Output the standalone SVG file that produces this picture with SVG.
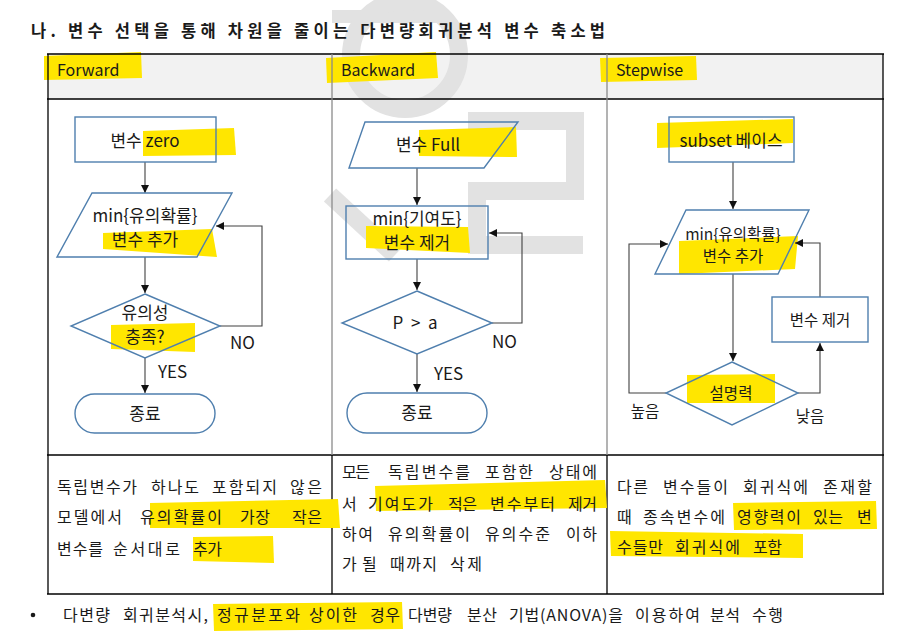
<svg xmlns="http://www.w3.org/2000/svg" width="910" height="638" viewBox="0 0 910 638">
<defs>
<style>
.t{font-family:"Noto Sans CJK KR","Noto Sans",sans-serif;fill:#1a1a1a}
.fc{font-size:17px;text-anchor:middle}
.fs{font-size:15.5px;text-anchor:middle}
.lbl{font-size:17px}
.hdr{font-size:16px}
.d{font-size:16px}
.hl{fill:#ffe600}
.shape{fill:none;stroke:#4f7fae;stroke-width:1.4}
.conn{fill:none;stroke:#404040;stroke-width:1.1}
.wm{fill:none;stroke:#e2e2e2;stroke-width:18}
.outer{stroke:#000;stroke-width:1.3}
.inner{stroke:#8a8a8a;stroke-width:1.3}
</style>
<marker id="ah" viewBox="0 0 10 10" refX="10" refY="5" markerUnits="userSpaceOnUse" markerWidth="9" markerHeight="8" orient="auto">
<path d="M0,0 L10,5 L0,10 z" fill="#111"/>
</marker>
</defs>
<rect width="910" height="638" fill="#fff"/>

<!-- header row background -->
<rect x="48" y="54" width="835" height="45" fill="#f2f2f2"/>

<!-- watermark -->
<g id="watermark">
<rect x="378" y="0" width="16" height="12" fill="#e2e2e2"/>
<rect x="332" y="10" width="116" height="13" fill="#e2e2e2"/>
<circle class="wm" cx="405" cy="55" r="54" stroke-width="20"/>
<path class="wm" d="M468,121 H575 V191 H477 V245 H583"/>
<path class="wm" d="M330,195 L395,255"/>
</g>

<!-- title -->
<text class="t" x="31" y="37" font-size="16.5" font-weight="bold" textLength="574" lengthAdjust="spacing">나. 변수 선택을 통해 차원을 줄이는 다변량회귀분석 변수 축소법</text>

<!-- header highlights and texts -->
<polygon class="hl" points="44,56 141,52 142,78 44,80"/>
<polygon class="hl" points="326,58 436,52 438,78 327,83"/>
<polygon class="hl" points="600,58 696,56 697,80 601,82"/>
<text class="t hdr" x="57" y="76">Forward</text>
<text class="t hdr" x="341" y="76">Backward</text>
<text class="t hdr" x="616" y="76">Stepwise</text>

<!-- table lines -->
<g id="table">
<line class="outer" x1="47" y1="54" x2="884" y2="54"/>
<line class="outer" x1="47" y1="99" x2="884" y2="99"/>
<line class="outer" x1="47" y1="455" x2="884" y2="455"/>
<line class="outer" x1="47" y1="594" x2="884" y2="594"/>
<line class="outer" x1="48" y1="54" x2="48" y2="594"/>
<line class="outer" x1="883" y1="54" x2="883" y2="594"/>
<line class="inner" x1="332" y1="54" x2="332" y2="455"/>
<line class="inner" x1="607" y1="54" x2="607" y2="455"/>
<line class="outer" x1="332" y1="455" x2="332" y2="594"/>
<line class="outer" x1="607" y1="455" x2="607" y2="594"/>
</g>

<!-- highlights under flowchart text -->
<polygon class="hl" points="143,131 234,128 236,155 143,156"/>
<polygon class="hl" points="103,233 212,229 217,257 103,249"/>
<polygon class="hl" points="111,325 195,323 195,352 111,349"/>
<polygon class="hl" points="419,130 516,127 517,157 419,156"/>
<polygon class="hl" points="366,226 468,227 470,253 366,248"/>
<polygon class="hl" points="657,123 793,119 793,143 657,148"/>
<polygon class="hl" points="679,241 798,236 795,269 679,274"/>
<polygon class="hl" points="687,375 775,374 775,403 687,403"/>

<!-- connectors -->
<g id="connectors">
<path class="conn" d="M145,162 V193" marker-end="url(#ah)"/>
<path class="conn" d="M145,257 V293" marker-end="url(#ah)"/>
<path class="conn" d="M220,326 H262 V226 H216" marker-end="url(#ah)"/>
<path class="conn" d="M145,358 V393" marker-end="url(#ah)"/>

<path class="conn" d="M417,168 V205" marker-end="url(#ah)"/>
<path class="conn" d="M417,259 V290" marker-end="url(#ah)"/>
<path class="conn" d="M492,323 H522 V233 H489" marker-end="url(#ah)"/>
<path class="conn" d="M417,354 V392" marker-end="url(#ah)"/>

<path class="conn" d="M733,162 V209" marker-end="url(#ah)"/>
<path class="conn" d="M733,274 V361" marker-end="url(#ah)"/>
<path class="conn" d="M666,393 H629 V244 H668" marker-end="url(#ah)"/>
<path class="conn" d="M798,393 H820 V343" marker-end="url(#ah)"/>
<path class="conn" d="M820,297 V243 H795" marker-end="url(#ah)"/>
</g>

<!-- Forward nodes -->
<g id="f-start">
<rect class="shape" x="75" y="117" width="141" height="45"/>
<text class="t fc" x="145" y="147">변수 zero</text>
</g>
<g id="f-add">
<polygon class="shape" points="92,193 232,193 197,257 57,257"/>
<text class="t fc" x="145" y="222">min{유의확률}</text>
<text class="t fc" x="145" y="246">변수 추가</text>
</g>
<g id="f-check">
<polygon class="shape" points="145,294 220,326 145,358 71,326"/>
<text class="t fc" x="145" y="319">유의성</text>
<text class="t fc" x="145" y="343">충족?</text>
</g>
<g id="f-end">
<rect class="shape" x="75" y="394" width="140" height="39" rx="19.5"/>
<text class="t fc" x="145" y="420">종료</text>
</g>
<text class="t lbl" x="230" y="349">NO</text>
<text class="t lbl" x="158" y="378">YES</text>

<!-- Backward nodes -->
<g id="b-start">
<polygon class="shape" points="365,122 518,122 484,168 349,168"/>
<text class="t fc" x="428" y="151">변수 Full</text>
</g>
<g id="b-remove">
<rect class="shape" x="346" y="206" width="142" height="53"/>
<text class="t fc" x="417" y="225" font-size="16.5">min{기여도}</text>
<text class="t fc" x="417" y="249" font-size="16.5">변수 제거</text>
</g>
<g id="b-check">
<polygon class="shape" points="417,291 492,323 417,354 342,323"/>
<text class="t fc" x="415" y="329" xml:space="preserve">P  &gt;  a</text>
</g>
<g id="b-end">
<rect class="shape" x="347" y="393" width="140" height="40" rx="20"/>
<text class="t fc" x="417" y="419">종료</text>
</g>
<text class="t lbl" x="492" y="348">NO</text>
<text class="t lbl" x="434" y="380">YES</text>

<!-- Stepwise nodes -->
<g id="s-start">
<rect class="shape" x="669" y="117" width="125" height="45"/>
<text class="t fc" x="731" y="147" font-size="16">subset 베이스</text>
</g>
<g id="s-add">
<polygon class="shape" points="686,210 809,210 778,274 655,274"/>
<text class="t fs" x="733" y="240">min{유의확률}</text>
<text class="t fs" x="733" y="262">변수 추가</text>
</g>
<g id="s-check">
<polygon class="shape" points="732,362 798,393 732,425 666,393"/>
<text class="t fs" x="731" y="399">설명력</text>
</g>
<g id="s-remove">
<rect class="shape" x="772" y="297" width="96" height="45"/>
<text class="t fs" x="820" y="326" font-size="16">변수 제거</text>
</g>
<text class="t fs" x="645" y="417">높음</text>
<text class="t fs" x="810" y="422">낮음</text>

<!-- description highlights -->
<polygon class="hl" points="150,503 338,499 340,528 150,528"/>
<polygon class="hl" points="193,537 273,536 274,563 193,561"/>
<polygon class="hl" points="375,486 605,480 607,508 376,511"/>
<polygon class="hl" points="733,503 876,501 877,529 734,530"/>
<polygon class="hl" points="610,531 803,534 803,558 611,556"/>
<polygon class="hl" points="213,604 402,602 403,629 214,631"/>

<!-- descriptions -->
<text class="t d" lengthAdjust="spacing"><tspan x="57" y="493" textLength="80">독립변수가</tspan><tspan x="151" y="493" textLength="48">하나도</tspan><tspan x="212" y="493" textLength="65">포함되지</tspan><tspan x="290" y="493" textLength="32">않은</tspan></text>
<text class="t d" lengthAdjust="spacing"><tspan x="57" y="523" textLength="65">모델에서</tspan><tspan x="140" y="523" textLength="82">유의확률이</tspan><tspan x="240" y="523" textLength="30">가장</tspan><tspan x="292" y="523" textLength="30">작은</tspan></text>
<text class="t d" lengthAdjust="spacing"><tspan x="57" y="555" textLength="46">변수를</tspan><tspan x="113" y="555" textLength="67">순서대로</tspan><tspan x="193" y="555" textLength="29">추가</tspan></text>

<text class="t d" lengthAdjust="spacing"><tspan x="342" y="478" textLength="28">모든</tspan><tspan x="388" y="478" textLength="82">독립변수를</tspan><tspan x="485" y="478" textLength="48">포함한</tspan><tspan x="549" y="478" textLength="48">상태에</tspan></text>
<text class="t d" lengthAdjust="spacing"><tspan x="342" y="510">서</tspan><tspan x="368" y="510" textLength="65">기여도가</tspan><tspan x="448" y="510" textLength="29">적은</tspan><tspan x="490" y="510" textLength="65">변수부터</tspan><tspan x="568" y="510" textLength="29">제거</tspan></text>
<text class="t d" lengthAdjust="spacing"><tspan x="342" y="540" textLength="31">하여</tspan><tspan x="388" y="540" textLength="82">유의확률이</tspan><tspan x="485" y="540" textLength="65">유의수준</tspan><tspan x="566" y="540" textLength="31">이하</tspan></text>
<text class="t d" lengthAdjust="spacing"><tspan x="342" y="570">가</tspan><tspan x="362" y="570">될</tspan><tspan x="390" y="570" textLength="47">때까지</tspan><tspan x="450" y="570" textLength="32">삭제</tspan></text>

<text class="t d" lengthAdjust="spacing"><tspan x="617" y="493" textLength="31">다른</tspan><tspan x="663" y="493" textLength="65">변수들이</tspan><tspan x="743" y="493" textLength="65">회귀식에</tspan><tspan x="823" y="493" textLength="49">존재할</tspan></text>
<text class="t d" lengthAdjust="spacing"><tspan x="617" y="523">때</tspan><tspan x="643" y="523" textLength="82">종속변수에</tspan><tspan x="737" y="523" textLength="64">영향력이</tspan><tspan x="813" y="523" textLength="30">있는</tspan><tspan x="857" y="523">변</tspan></text>
<text class="t d" lengthAdjust="spacing"><tspan x="617" y="553" textLength="46">수들만</tspan><tspan x="675" y="553" textLength="65">회귀식에</tspan><tspan x="753" y="553" textLength="29">포함</tspan></text>

<!-- bullet note -->
<circle cx="33" cy="615" r="2.3" fill="#1a1a1a"/>
<text class="t d" lengthAdjust="spacing"><tspan x="63" y="621" textLength="47">다변량</tspan><tspan x="123" y="621" textLength="85">회귀분석시,</tspan><tspan x="217" y="621" textLength="83">정규분포와</tspan><tspan x="309" y="621" textLength="48">상이한</tspan><tspan x="370" y="621" textLength="30">경우</tspan><tspan x="408" y="621" textLength="44">다변량</tspan><tspan x="467" y="621" textLength="30">분산</tspan><tspan x="509" y="621" textLength="114">기법(ANOVA)을</tspan><tspan x="635" y="621" textLength="65">이용하여</tspan><tspan x="710" y="621" textLength="30">분석</tspan><tspan x="752" y="621" textLength="31">수행</tspan></text>
</svg>
